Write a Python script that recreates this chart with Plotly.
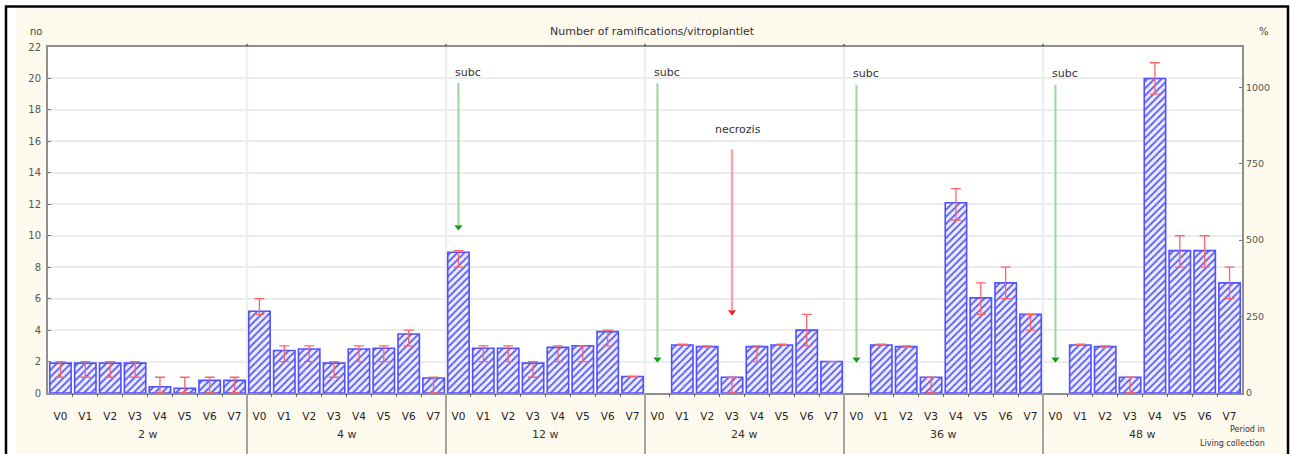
import plotly.graph_objects as go

# ---------------- data ----------------
groups = ["2 w", "4 w", "12 w", "24 w", "36 w", "48 w"]
variants = ["V0", "V1", "V2", "V3", "V4", "V5", "V6", "V7"]

# mean number of ramifications / vitroplantlet (per group, V0..V7)
mean = [
    1.9, 1.9, 1.9, 1.9, 0.4, 0.3, 0.8, 0.8,          # 2 w
    5.2, 2.7, 2.8, 1.9, 2.8, 2.85, 3.75, 0.95,       # 4 w
    8.95, 2.85, 2.85, 1.9, 2.9, 3.0, 3.9, 1.05,      # 12 w
    None, 3.05, 2.95, 1.0, 2.95, 3.05, 4.0, 2.0,     # 24 w
    None, 3.05, 2.95, 1.0, 12.1, 6.05, 7.0, 5.0,     # 36 w
    None, 3.05, 2.95, 1.0, 20.0, 9.05, 9.05, 7.0,    # 48 w
]
# lower / upper ends of the error bars
err_lo = [
    1, 1, 1, 1, 0, 0, 0, 0,
    5, 2, 2, 1, 2, 2, 3, 0,
    8, 2, 2, 1, 2, 2, 3, 1.05,
    None, 3.05, 2.9, 0, 2, 3.05, 3, 2.0,
    None, 3.05, 2.9, 0, 11, 5, 6, 4,
    None, 3.05, 2.9, 0, 19, 8, 8, 6,
]
err_hi = [
    2, 2, 2, 2, 1, 1, 1, 1,
    6, 3, 3, 2, 3, 3, 4, 1,
    9.05, 3, 3, 2, 3, 3, 4, 1.05,
    None, 3.1, 3.0, 1.0, 3.0, 3.1, 5, 2.0,
    None, 3.1, 3.0, 1.0, 13, 7, 8, 5,
    None, 3.1, 3.0, 1.0, 21, 10, 10, 8,
]

left_ticks = list(range(0, 23, 2))
right_ticks = [0, 250, 500, 750, 1000]

# event markers (arrows)
ev_label = ["subc", "subc", "necrozis", "subc", "subc"]
ev_period = ["12 w", "24 w", "24 w", "36 w", "48 w"]
ev_variant = ["V0", "V0", "V3", "V0", "V0"]
ev_from = [19.7, 19.7, 15.5, 19.6, 19.6]
ev_to = [10.3, 1.9, 4.9, 1.9, 1.9]
ev_kind = ["g", "g", "r", "g", "g"]

# ---------------- layout helpers ----------------
W, H = 1291, 454
ML, MR, MT, MB = 48, 49, 47, 61
PW, PH = W - ML - MR, H - MT - MB
def px(p):
    return (p - ML) / PW
def py(p):
    return (H - MB - p) / PH

FONT = "DejaVu Sans, Verdana, sans-serif"
CREAM = "#fffaee"

x_outer = [g for g in groups for v in variants]
x_inner = [v for g in groups for v in variants]
idx = list(range(len(mean)))
n = len(variants)
plus = [(h - m) if m is not None else 0 for m, h in zip(mean, err_hi)]
minus = [(m - l) if m is not None else 0 for m, l in zip(mean, err_lo)]

fig = go.Figure()
fig.add_trace(go.Bar(
    x=[x_outer, x_inner], y=mean,
    marker=dict(
        color="#ececff",
        line=dict(color="#5050ff", width=1.6),
        pattern=dict(shape="/", fgcolor="#5a5aff", bgcolor="#eeeeff",
                     size=5, solidity=0.35, fillmode="replace"),
    ),
    error_y=dict(type="data", symmetric=False, array=plus, arrayminus=minus,
                 color="#ff6464", thickness=1.3, width=5),
    showlegend=False, hoverinfo="skip",
))
# dummy trace for the right axis
fig.add_trace(go.Scatter(x=[x_outer[:1], x_inner[:1]], y=[None], yaxis="y2",
                         showlegend=False, hoverinfo="skip", mode="markers"))

shapes = []
annotations = []

# outside-of-frame white strips
shapes += [
    dict(type="rect", xref="paper", yref="paper", x0=px(0), x1=px(16), y0=py(470), y1=py(0),
         fillcolor="#ffffff", line=dict(width=0), layer="below"),
    dict(type="rect", xref="paper", yref="paper", x0=px(0), x1=px(W), y0=py(8), y1=py(0),
         fillcolor="#ffffff", line=dict(width=0), layer="below"),
    dict(type="rect", xref="paper", yref="paper", x0=px(1287), x1=px(W), y0=py(470), y1=py(0),
         fillcolor="#ffffff", line=dict(width=0), layer="below"),
]

# group separators: light inside the plot, dark below the axis
for gi in range(1, len(groups)):
    xb = gi * n - 0.5
    shapes.append(dict(type="line", xref="x2", yref="paper", x0=xb, x1=xb, y0=0, y1=1,
                       line=dict(color="#efefef", width=2.5), layer="below"))
    shapes.append(dict(type="line", xref="x2", yref="paper", x0=xb, x1=xb, y0=0, y1=py(470),
                       line=dict(color="#a3a3a3", width=2)))
    shapes.append(dict(type="line", xref="x2", yref="paper", x0=xb, x1=xb, y0=1, y1=py(44),
                       line=dict(color="#777777", width=2)))

# group labels under the variant labels
for gi, g in enumerate(groups):
    annotations.append(dict(x=gi * n + (n - 1) / 2, y=py(434), xref="x2", yref="paper",
                            text=g, showarrow=False, xanchor="center", yanchor="middle",
                            font=dict(family=FONT, size=11, color="#333")))

# event arrows
head_x, head_y, head_c = [], [], []
for lab, per, var, y0, y1, k in zip(ev_label, ev_period, ev_variant, ev_from, ev_to, ev_kind):
    xi = groups.index(per) * n + variants.index(var)
    lc = "#98d898" if k == "g" else "#f8a4a4"
    hc = "#129a12" if k == "g" else "#ff1a1a"
    shapes.append(dict(type="line", xref="x2", yref="y", x0=xi, x1=xi, y0=y0, y1=y1 + 0.35,
                       line=dict(color=lc, width=2 if k == "g" else 2.5)))
    head_x.append(xi)
    head_y.append(y1 + 0.25)
    head_c.append(hc)
    if k == "g":
        annotations.append(dict(x=xi, y=y0 + 0.7, xref="x2", yref="y", text=lab,
                                showarrow=False, xanchor="left", yanchor="middle", xshift=-5,
                                font=dict(family=FONT, size=11, color="#333")))
    else:
        annotations.append(dict(x=xi, y=y0 + 1.25, xref="x2", yref="y", text=lab,
                                showarrow=False, xanchor="center", yanchor="middle", xshift=6,
                                font=dict(family=FONT, size=11, color="#333")))

fig.add_trace(go.Scatter(x=head_x, y=head_y, xaxis="x2", yaxis="y", mode="markers",
                         marker=dict(symbol="triangle-down", size=7, color=head_c,
                                     line=dict(width=0)),
                         showlegend=False, hoverinfo="skip"))

# outer black frame
shapes.append(dict(type="rect", xref="paper", yref="paper",
                   x0=px(6), x1=px(1288), y0=py(470), y1=py(6.5),
                   fillcolor="rgba(0,0,0,0)", line=dict(color="#000", width=2.5), layer="above"))

# texts
def ptext(x, y, t, size, xa="center", color="#333"):
    return dict(x=px(x), y=py(y), xref="paper", yref="paper", text=t, showarrow=False,
                xanchor=xa, yanchor="middle", font=dict(family=FONT, size=size, color=color))

annotations += [
    ptext(652, 32, "Number of ramifications/vitroplantlet", 11),
    ptext(36, 31, "no", 10, color="#444"),
    ptext(1264, 31, "%", 10, color="#444"),
    ptext(1267, 429, "Period in", 8, xa="right"),
    ptext(1267, 443, "Living collection", 8, xa="right"),
]

ymax = 22
right_max = 1132
xr = [-0.5, len(mean) - 0.5]

fig.update_layout(
    width=W, height=H,
    margin=dict(l=ML, r=MR, t=MT, b=MB),
    paper_bgcolor=CREAM,
    plot_bgcolor="#ffffff",
    bargap=0.14,
    font=dict(family=FONT, size=10, color="#333"),
    xaxis=dict(type="multicategory", showline=True, linecolor="#8f8f8f", linewidth=2,
               mirror=True, ticks="", showticklabels=False,
               showgrid=False, showdividers=False, range=xr),
    xaxis2=dict(overlaying="x", range=xr, visible=True, showline=False,
                showgrid=False, zeroline=False,
                tickmode="array", tickvals=idx, ticktext=x_inner, ticks="",
                ticklabelstandoff=15,
                tickfont=dict(family=FONT, size=10.5, color="#222"),
                minor=dict(tickvals=[i - 0.5 for i in idx[1:]], ticks="outside",
                           ticklen=3, tickcolor="#666", showgrid=False)),
    yaxis=dict(range=[0, ymax], tickvals=left_ticks, showline=True, linecolor="#8f8f8f",
               linewidth=2, ticks="inside", ticklen=3, tickcolor="#777",
               showgrid=True, gridcolor="#ececec", gridwidth=1.5, zeroline=False,
               ticklabelstandoff=3,
               tickfont=dict(family=FONT, size=10, color="#555")),
    yaxis2=dict(overlaying="y", side="right", range=[0, right_max], tickvals=right_ticks,
                showline=True, linecolor="#8f8f8f", linewidth=2, ticks="inside", ticklen=3,
                tickcolor="#777", showgrid=False, zeroline=False,
                tickfont=dict(family=FONT, size=9.5, color="#555")),
    shapes=shapes,
    annotations=annotations,
)

fig.write_html("out.html", config={"displayModeBar": False},
               post_script="document.body.style.margin='0';document.body.style.overflow='hidden';")
